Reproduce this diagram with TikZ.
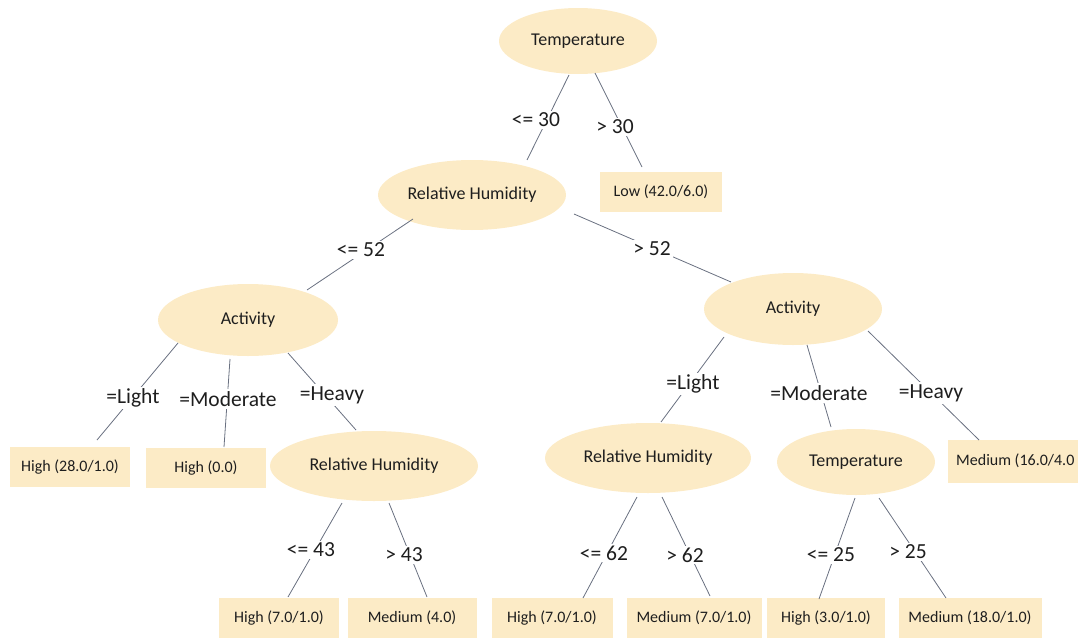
\documentclass[tikz,border=0pt]{standalone}
\usepackage{fontspec}
\setmainfont{Carlito}
\usetikzlibrary{shapes.geometric,calc}
\definecolor{nodefill}{RGB}{252,235,198}
\definecolor{edgecol}{RGB}{105,112,128}
\definecolor{txt}{RGB}{30,30,30}
\tikzset{
  inner/.style={ellipse,fill=nodefill,inner sep=0pt,text=txt,font=\fontsize{18}{21}\selectfont},
  leaf/.style={rectangle,fill=nodefill,inner sep=0pt,minimum height=40pt,text=txt,font=\fontsize{16}{19}\selectfont},
  edge/.style={draw=edgecol,line width=0.8pt},
  elabel/.style={fill=white,inner sep=2pt,text=txt,font=\fontsize{21.5}{24}\selectfont}
}
\begin{document}
\begin{tikzpicture}[x=1pt,y=-1pt]
\useasboundingbox (0,0) rectangle (1078,640);
% internal nodes
\node[inner,minimum width=158pt,minimum height=66pt] (T) at (578,41) {Temperature};
\node[inner,minimum width=188pt,minimum height=70pt] (RH1) at (472,195) {Relative Humidity};
\node[inner,minimum width=180pt,minimum height=72pt] (A1) at (248,320) {Activity};
\node[inner,minimum width=178pt,minimum height=72pt] (A2) at (793,309) {Activity};
\node[inner,minimum width=208pt,minimum height=70pt] (RH2) at (374,466) {Relative Humidity};
\node[inner,minimum width=206pt,minimum height=70pt] (RH3) at (648,458) {Relative Humidity};
\node[inner,minimum width=158pt,minimum height=66pt] (T2) at (856,462) {Temperature};
% leaves
\node[leaf,minimum width=122pt] (Low) at (661,192) {Low (42.0/6.0)};
\node[leaf,minimum width=120pt] (L1) at (70,467) {High (28.0/1.0)};
\node[leaf,minimum width=120pt] (L2) at (206,468) {High (0.0)};
\node[leaf,minimum width=130pt,minimum height=43pt,anchor=west] (L3) at (948,461) {\hspace*{8pt}Medium (16.0/4.0\hspace*{6pt}};
\node[leaf,minimum width=120pt] (B1) at (279,618) {High (7.0/1.0)};
\node[leaf,minimum width=129pt] (B2) at (412,618) {Medium (4.0)};
\node[leaf,minimum width=121pt] (B3) at (552,618) {High (7.0/1.0)};
\node[leaf,minimum width=135pt] (B4) at (694,618) {Medium (7.0/1.0)};
\node[leaf,minimum width=118pt] (B5) at (826,618) {High (3.0/1.0)};
\node[leaf,minimum width=143pt] (B6) at (970,618) {Medium (18.0/1.0)};
% edges
\draw[edge] ($(T)+(-9,34)$) -- ($(RH1)+(55,-35)$);
\draw[edge] ($(T)+(17,32)$) -- ($(Low)+(-19,-25)$);
\draw[edge] ($(RH1)+(-59,24)$) -- ($(A1)+(59,-30)$);
\draw[edge] ($(RH1)+(102,19)$) -- ($(A2)+(-62,-27)$);
\draw[edge] ($(A1)+(-70,23)$) -- ($(L1)+(27,-27)$);
\draw[edge] ($(A1)+(-18,39)$) -- ($(L2)+(18,-21)$);
\draw[edge] ($(A1)+(40,33)$) -- ($(RH2)+(-18,-36)$);
\draw[edge] ($(A2)+(-69,28)$) -- ($(RH3)+(13,-36)$);
\draw[edge] ($(A2)+(14,36)$) -- ($(T2)+(-25,-35)$);
\draw[edge] ($(A2)+(75,22)$) -- ($(L3.west)+(31,-21)$);
\draw[edge] ($(RH2)+(-32,37)$) -- ($(B1)+(9,-21)$);
\draw[edge] ($(RH2)+(15,37)$) -- ($(B2)+(15,-21)$);
\draw[edge] ($(RH3)+(-11,39)$) -- ($(B3)+(31,-20)$);
\draw[edge] ($(RH3)+(14,39)$) -- ($(B4)+(16,-22)$);
\draw[edge] ($(T2)+(-1,36)$) -- ($(B5)+(-7,-19)$);
\draw[edge] ($(T2)+(23,36)$) -- ($(B6)+(-24,-20)$);
% edge labels
\node[elabel] (e1) at (536,120) {<= 30};
\node[elabel] (e2) at (615,127) {> 30};
\node[elabel] (e3) at (361,250) {<= 52};
\node[elabel] (e4) at (652,249) {> 52};
\node[elabel] (e5) at (133,398) {=Light};
\node[elabel] (e6) at (228,399) {=Moderate};
\node[elabel] (e7) at (332,395) {=Heavy};
\node[elabel] (e8) at (693,384) {=Light};
\node[elabel] (e9) at (819,393) {=Moderate};
\node[elabel] (e10) at (931,393) {=Heavy};
\node[elabel] (e11) at (311,550) {<= 43};
\node[elabel] (e12) at (404,555) {> 43};
\node[elabel] (e13) at (604,553) {<= 62};
\node[elabel] (e14) at (685,555) {> 62};
\node[elabel] (e15) at (831,555) {<= 25};
\node[elabel] (e16) at (908,552) {> 25};
\end{tikzpicture}
\end{document}
